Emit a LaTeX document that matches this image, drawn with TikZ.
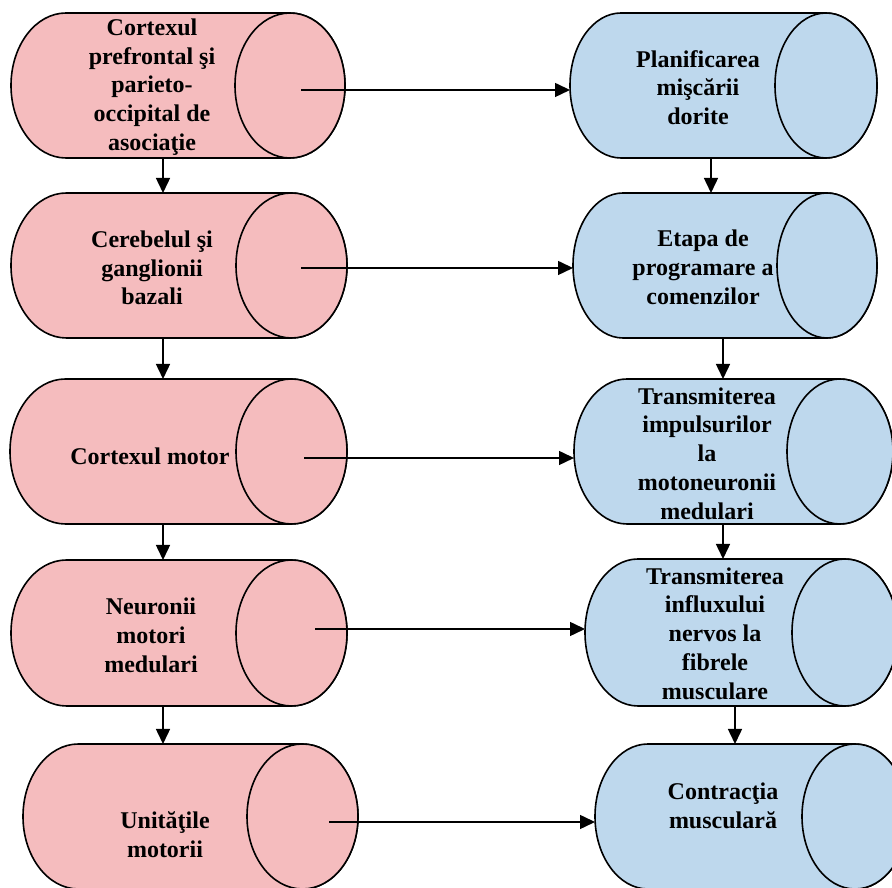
\documentclass[tikz,border=0pt]{standalone}
\usepackage{fontspec}
\setmainfont{Liberation Serif}
\usetikzlibrary{arrows.meta}

\definecolor{pinkfill}{RGB}{245,188,190}
\definecolor{bluefill}{RGB}{190,216,237}

% horizontal tube: style, left x, right x, top y, bottom y, radius of the end caps
\newcommand{\tube}[6]{%
  \pgfmathsetmacro\tubeRy{(#5-#4)/2}%
  \pgfmathsetmacro\tubeCy{-(#4+#5)/2}%
  \pgfmathsetmacro\tubeA{#2+#6}%
  \pgfmathsetmacro\tubeB{#3-#6}%
  \filldraw[#1] (\tubeA,-#4) -- (\tubeB,-#4)
    arc[start angle=90,end angle=-90,x radius=#6,y radius=\tubeRy]
    -- (\tubeA,-#5)
    arc[start angle=270,end angle=90,x radius=#6,y radius=\tubeRy] -- cycle;
  \draw[#1] (\tubeB,\tubeCy) ellipse[x radius=#6,y radius=\tubeRy];
}

\tikzset{
  pinktube/.style={fill=pinkfill, draw=black, line width=1.6pt},
  bluetube/.style={fill=bluefill, draw=black, line width=1.6pt},
  label/.style={font=\bfseries\fontsize{24}{28.7}\selectfont, align=center, inner sep=0pt},
  arr/.style={line width=1.5pt, -{Triangle[length=15pt,width=14pt]}}
}

\begin{document}
\begin{tikzpicture}[x=1pt,y=1pt]
\useasboundingbox (0,0) rectangle (892,888);
\begin{scope}[yshift=888pt]

% left column
\tube{pinktube}{11}{345}{13}{158}{55}
\tube{pinktube}{11}{347}{193}{338}{55.5}
\tube{pinktube}{10}{347}{379}{524}{55.5}
\tube{pinktube}{11}{347}{560}{706}{55.5}
\tube{pinktube}{23}{358}{744}{889}{55.5}

% right column
\tube{bluetube}{570}{877}{13}{158}{51}
\tube{bluetube}{573}{877}{193}{338}{50}
\tube{bluetube}{574}{893}{379}{524}{53}
\tube{bluetube}{585}{898}{559}{706}{53}
\tube{bluetube}{595}{908}{744}{889}{53}

% labels
\node[label] (L1) at (152,-87) {Cortexul\\prefrontal şi\\parieto-\\occipital de\\asociaţie};
\node[label] (L2) at (152,-268) {Cerebelul şi\\ganglionii\\bazali};
\node[label] (L3) at (150,-456) {Cortexul motor};
\node[label] (L4) at (151,-635.5) {Neuronii\\motori\\medulari};
\node[label] (L5) at (165,-835) {Unităţile\\motorii};

\node[label] (R1) at (698,-87.5) {Planificarea\\mişcării\\dorite};
\node[label] (R2) at (703,-267.5) {Etapa de\\programare a\\comenzilor};
\node[label] (R3) at (707,-453.5) {Transmiterea\\impulsurilor\\la\\motoneuronii\\medulari};
\node[label] (R4) at (715,-633.5) {Transmiterea\\influxului\\nervos la\\fibrele\\musculare};
\node[label] (R5) at (723,-806) {Contracţia\\musculară};

% connector ends
\coordinate (L1out) at (301,-90);   \coordinate (R1in) at (570,-90);
\coordinate (L2out) at (301,-268);  \coordinate (R2in) at (573,-268);
\coordinate (L3out) at (304,-458);  \coordinate (R3in) at (574,-458);
\coordinate (L4out) at (315,-629);  \coordinate (R4in) at (585,-629);
\coordinate (L5out) at (329,-822);  \coordinate (R5in) at (595,-822);

\coordinate (L1b) at (163,-158);  \coordinate (L2t) at (163,-193);
\coordinate (L2b) at (163,-338);  \coordinate (L3t) at (163,-379);
\coordinate (L3b) at (163,-524);  \coordinate (L4t) at (163,-560);
\coordinate (L4b) at (163,-706);  \coordinate (L5t) at (163,-744);

\coordinate (R1b) at (711,-158);  \coordinate (R2t) at (711,-193);
\coordinate (R2b) at (723,-338);  \coordinate (R3t) at (723,-379);
\coordinate (R3b) at (723,-524);  \coordinate (R4t) at (723,-559);
\coordinate (R4b) at (735,-706);  \coordinate (R5t) at (735,-744);

% connectors
\draw[arr] (L1out) -- (R1in);
\draw[arr] (L2out) -- (R2in);
\draw[arr] (L3out) -- (R3in);
\draw[arr] (L4out) -- (R4in);
\draw[arr] (L5out) -- (R5in);

\draw[arr] (L1b) -- (L2t);
\draw[arr] (L2b) -- (L3t);
\draw[arr] (L3b) -- (L4t);
\draw[arr] (L4b) -- (L5t);

\draw[arr] (R1b) -- (R2t);
\draw[arr] (R2b) -- (R3t);
\draw[arr] (R3b) -- (R4t);
\draw[arr] (R4b) -- (R5t);

\end{scope}
\end{tikzpicture}
\end{document}
